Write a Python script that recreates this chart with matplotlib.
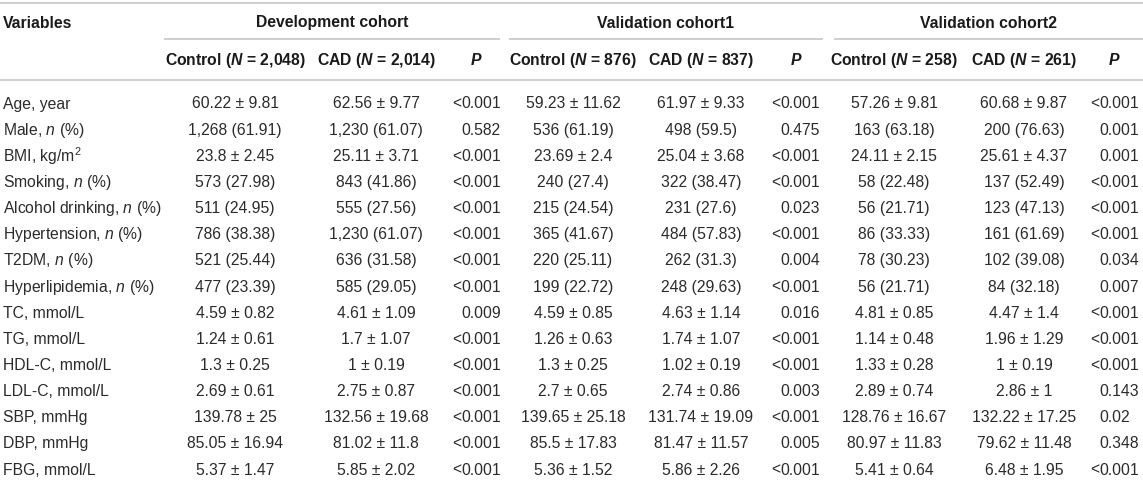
import numpy as np
import matplotlib
matplotlib.use('Agg')
import matplotlib.pyplot as plt

plt.rcParams['font.family'] = ['Liberation Sans', 'DejaVu Sans']
plt.rcParams['mathtext.fontset'] = 'custom'
plt.rcParams['mathtext.rm'] = 'Liberation Sans'
plt.rcParams['mathtext.it'] = 'Liberation Sans:italic'
plt.rcParams['mathtext.bf'] = 'Liberation Sans:bold'
plt.rcParams['mathtext.bfit'] = 'Liberation Sans:italic:bold'

# table content
variables = ['Age, year', 'Male, $n$ (%)', 'BMI, kg/m$^2$', 'Smoking, $n$ (%)',
             'Alcohol drinking, $n$ (%)', 'Hypertension, $n$ (%)', 'T2DM, $n$ (%)',
             'Hyperlipidemia, $n$ (%)', 'TC, mmol/L', 'TG, mmol/L', 'HDL-C, mmol/L',
             'LDL-C, mmol/L', 'SBP, mmHg', 'DBP, mmHg', 'FBG, mmol/L']
cohorts = ['Development cohort', 'Validation cohort1', 'Validation cohort2']
n_control = ['2,048', '876', '258']
n_cad = ['2,014', '837', '261']

dev_control = ['60.22 ± 9.81', '1,268 (61.91)', '23.8 ± 2.45', '573 (27.98)', '511 (24.95)',
               '786 (38.38)', '521 (25.44)', '477 (23.39)', '4.59 ± 0.82', '1.24 ± 0.61',
               '1.3 ± 0.25', '2.69 ± 0.61', '139.78 ± 25', '85.05 ± 16.94', '5.37 ± 1.47']
dev_cad = ['62.56 ± 9.77', '1,230 (61.07)', '25.11 ± 3.71', '843 (41.86)', '555 (27.56)',
           '1,230 (61.07)', '636 (31.58)', '585 (29.05)', '4.61 ± 1.09', '1.7 ± 1.07',
           '1 ± 0.19', '2.75 ± 0.87', '132.56 ± 19.68', '81.02 ± 11.8', '5.85 ± 2.02']
dev_p = ['<0.001', '0.582', '<0.001', '<0.001', '<0.001', '<0.001', '<0.001', '<0.001',
         '0.009', '<0.001', '<0.001', '<0.001', '<0.001', '<0.001', '<0.001']

val1_control = ['59.23 ± 11.62', '536 (61.19)', '23.69 ± 2.4', '240 (27.4)', '215 (24.54)',
                '365 (41.67)', '220 (25.11)', '199 (22.72)', '4.59 ± 0.85', '1.26 ± 0.63',
                '1.3 ± 0.25', '2.7 ± 0.65', '139.65 ± 25.18', '85.5 ± 17.83', '5.36 ± 1.52']
val1_cad = ['61.97 ± 9.33', '498 (59.5)', '25.04 ± 3.68', '322 (38.47)', '231 (27.6)',
            '484 (57.83)', '262 (31.3)', '248 (29.63)', '4.63 ± 1.14', '1.74 ± 1.07',
            '1.02 ± 0.19', '2.74 ± 0.86', '131.74 ± 19.09', '81.47 ± 11.57', '5.86 ± 2.26']
val1_p = ['<0.001', '0.475', '<0.001', '<0.001', '0.023', '<0.001', '0.004', '<0.001',
          '0.016', '<0.001', '<0.001', '0.003', '<0.001', '0.005', '<0.001']

val2_control = ['57.26 ± 9.81', '163 (63.18)', '24.11 ± 2.15', '58 (22.48)', '56 (21.71)',
                '86 (33.33)', '78 (30.23)', '56 (21.71)', '4.81 ± 0.85', '1.14 ± 0.48',
                '1.33 ± 0.28', '2.89 ± 0.74', '128.76 ± 16.67', '80.97 ± 11.83', '5.41 ± 0.64']
val2_cad = ['60.68 ± 9.87', '200 (76.63)', '25.61 ± 4.37', '137 (52.49)', '123 (47.13)',
            '161 (61.69)', '102 (39.08)', '84 (32.18)', '4.47 ± 1.4', '1.96 ± 1.29',
            '1 ± 0.19', '2.86 ± 1', '132.22 ± 17.25', '79.62 ± 11.48', '6.48 ± 1.95']
val2_p = ['<0.001', '0.001', '0.001', '<0.001', '<0.001', '<0.001', '0.034', '0.007',
          '<0.001', '<0.001', '<0.001', '0.143', '0.02', '0.348', '<0.001']

groups = [(dev_control, dev_cad, dev_p),
          (val1_control, val1_cad, val1_p),
          (val2_control, val2_cad, val2_p)]

# layout (pixels)
W, H = 1143, 482
ctrl_x = [235, 573, 894]
cad_x = [376, 701, 1024]
p_x = [461, 780, 1099]        # where the "0." of p values starts
p_head_x = [476, 796, 1114]
span = [(164, 500), (509, 823), (834, 1143)]
row_y = 104 + 26.15 * np.arange(len(variables))
fs = 11.3
txt = '#2b2b2b'
head = '#1a1a1a'
rule = '#c6c6c6'

fig = plt.figure(figsize=(W / 100, H / 100), dpi=100)
ax = fig.add_axes([0, 0, 1, 1])
ax.set_xlim(0, W)
ax.set_ylim(H, 0)
ax.axis('off')

# rules
ax.plot([0, W], [2.7, 2.7], color=rule, lw=1.2, solid_capstyle='butt')
ax.plot([0, W], [80, 80], color=rule, lw=1.2, solid_capstyle='butt')
for a, b in span:
    ax.plot([a, b], [39, 39], color=rule, lw=1.2, solid_capstyle='butt')

# headers
ax.text(3, 23, 'Variables', fontsize=fs, fontweight='bold', color=head, va='center', ha='left')
for k in range(3):
    a, b = span[k]
    ax.text((a + b) / 2, 23, cohorts[k], fontsize=fs, fontweight='bold', color=head,
            va='center', ha='center')
    ax.text(ctrl_x[k], 60, r'Control ($\mathbfit{N}$ = ' + n_control[k] + ')', fontsize=fs,
            fontweight='bold', color=head, va='center', ha='center')
    ax.text(cad_x[k], 60, r'CAD ($\mathbfit{N}$ = ' + n_cad[k] + ')', fontsize=fs,
            fontweight='bold', color=head, va='center', ha='center')
    ax.text(p_head_x[k], 60, r'$\mathbfit{P}$', fontsize=fs, color=head,
            va='center', ha='center')

# body
for i, var in enumerate(variables):
    y = row_y[i]
    ax.text(3, y, var, fontsize=fs, color=txt, va='center', ha='left')
    for k, (ctrl, cad, pv) in enumerate(groups):
        ax.text(ctrl_x[k], y, ctrl[i], fontsize=fs, color=txt, va='center', ha='center')
        ax.text(cad_x[k], y, cad[i], fontsize=fs, color=txt, va='center', ha='center')
        p = pv[i]
        if p.startswith('<'):
            ax.text(p_x[k], y, '<', fontsize=fs, color=txt, va='center', ha='right')
            p = p[1:]
        ax.text(p_x[k], y, p, fontsize=fs, color=txt, va='center', ha='left')

fig.savefig('out.png', dpi=100)
